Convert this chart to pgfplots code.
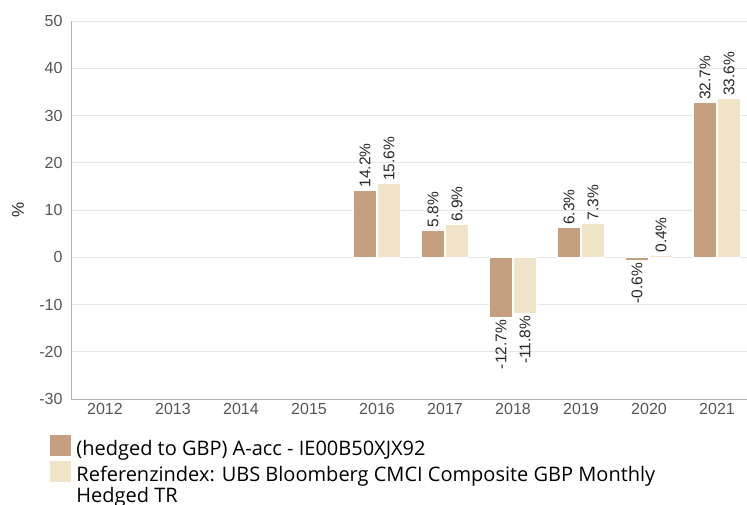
\documentclass[border=0pt]{standalone}
\usepackage{fontspec}
\setmainfont{Liberation Sans}
\newfontfamily\legfont{Open Sans}
\usepackage{pgfplots}
\pgfplotsset{compat=1.18}
\definecolor{barA}{HTML}{C4A080}
\definecolor{barB}{HTML}{EFE3C8}
\definecolor{tickgray}{HTML}{555555}
\definecolor{gridgray}{HTML}{E6E6E6}
\begin{document}
\begin{tikzpicture}[x=1pt,y=1pt]
\useasboundingbox (0,0) rectangle (747,504);
\begin{axis}[
  at={(71pt,105pt)}, anchor=south west,
  scale only axis, width=676pt, height=378pt,
  ybar=1pt, bar width=23pt,
  xmin=-0.5, xmax=9.441, ymin=-30, ymax=50,
  ytick={-30,-20,...,50},
  xtick={0,...,9},
  xticklabels={2012,2013,2014,2015,2016,2017,2018,2019,2020,2021},
  axis x line*=bottom, axis y line*=left,
  axis line style={draw=gray!60, line width=0.8pt},
  major tick length=0pt,
  ymajorgrids, grid style={draw=gridgray, line width=0.8pt},
  /pgf/number format/assume math mode=true,
  ticklabel style={font=\fontsize{16}{18}\selectfont, text=tickgray},
  yticklabel style={xshift=-5pt},
  xticklabel style={yshift=-1pt},
  ylabel={\%},
  every axis y label/.style={at={(axis description cs:0,0.5)}, xshift=-53pt, rotate=90, anchor=center,
     font=\fontsize{17}{19}\selectfont, text=black!85},
  visualization depends on={y \as \rawy},
  nodes near coords={\pgfmathprintnumber[fixed,precision=1,fixed zerofill,assume math mode=true]{\pgfplotspointmeta}\%},
  every node near coord/.append style={font=\fontsize{15.5}{17}\selectfont, text=black!85, rotate=90,
     anchor={\ifdim\rawy pt<0pt east\else west\fi}, inner sep=2.5pt},
  legend style={at={(axis description cs:-0.0311,-0.0952)}, anchor=north west, draw=none, fill=none,
     font=\legfont\fontsize{20}{21}\selectfont, cells={anchor=base west}, row sep=2pt,
     inner sep=0pt, column sep=0pt},
  legend image code/.code={\fill[#1,draw=none] (0pt,-0.7pt) rectangle (21pt,20.3pt); \path (24pt,0pt);},
]
\addplot[fill=barA, draw=white, line width=0.5pt]
  coordinates {(4,14.2) (5,5.8) (6,-12.7) (7,6.3) (8,-0.6) (9,32.7)};
\addplot[fill=barB, draw=white, line width=0.5pt]
  coordinates {(4,15.6) (5,6.9) (6,-11.8) (7,7.3) (8,0.4) (9,33.6)};
\legend{(hedged to GBP) A-acc - IE00B50XJX92, {\begin{tabular}[t]{@{}l@{}}Referenzindex: UBS Bloomberg CMCI Composite GBP Monthly\\Hedged TR\end{tabular}}}
\end{axis}
\end{tikzpicture}
\end{document}
